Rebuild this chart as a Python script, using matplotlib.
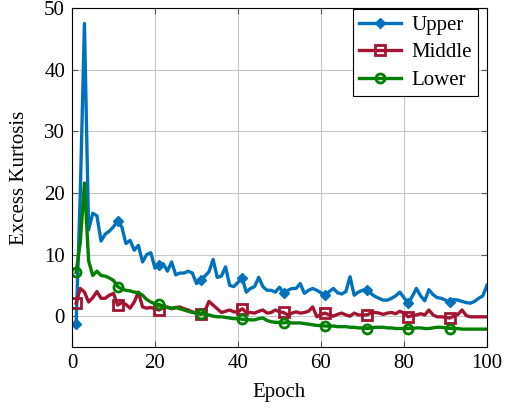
import numpy as np
import matplotlib.pyplot as plt

plt.rcParams['font.family'] = ['Liberation Serif', 'DejaVu Serif']

epochs = np.arange(1, 101)

upper = [
    -1.2, 20.0, 47.5, 14.0, 16.7, 16.3, 12.2, 13.3, 13.8, 14.5,
    15.5, 14.5, 11.8, 12.3, 10.7, 11.5, 8.8, 10.0, 10.3, 7.8,
    8.3, 8.5, 7.3, 8.8, 6.7, 7.0, 7.0, 7.3, 7.0, 5.3,
    5.8, 6.5, 7.2, 9.2, 6.3, 6.5, 8.0, 5.0, 4.8, 5.5,
    6.2, 3.9, 4.5, 4.8, 6.3, 4.8, 4.2, 4.2, 3.9, 4.7,
    3.7, 4.2, 4.5, 4.5, 5.3, 3.7, 4.2, 4.5, 4.2, 3.8,
    3.4, 4.0, 4.5, 3.8, 3.6, 4.0, 6.4, 3.4, 3.9, 4.2,
    4.3, 3.7, 3.2, 2.9, 2.6, 2.6, 2.9, 3.3, 3.9, 3.0,
    2.1, 3.2, 4.5, 3.3, 2.5, 4.3, 3.5, 3.0, 2.9, 2.6,
    2.3, 2.7, 2.6, 2.4, 2.2, 2.1, 2.4, 2.9, 3.3, 5.0,
]

middle = [
    2.1, 4.5, 3.9, 2.3, 3.0, 4.0, 2.9, 2.9, 3.4, 3.7,
    1.8, 2.2, 1.9, 1.3, 2.3, 3.9, 1.5, 1.3, 1.4, 1.2,
    1.0, 1.4, 1.5, 1.2, 1.4, 1.5, 1.2, 1.0, 0.7, 0.5,
    0.3, 0.8, 2.4, 1.8, 1.2, 0.6, 0.8, 1.0, 0.7, 0.7,
    1.2, 0.6, 0.6, 0.5, 0.8, 1.0, 0.5, 0.6, 1.0, 0.7,
    0.6, 0.2, 0.5, 0.7, 0.5, 0.6, 0.8, 1.5, -0.1, 0.3,
    0.5, 0.2, 0.0, 0.3, 0.5, 0.2, 0.0, 0.5, 0.2, 0.2,
    0.2, 0.5, 0.6, 0.5, 0.3, 0.5, 0.6, 0.4, 0.8, 0.5,
    -0.1, 0.1, 0.2, 0.4, 0.2, 1.0, 0.2, -0.1, -0.1, -0.2,
    -0.3, 0.0, 0.3, 1.0, 0.1, -0.1, -0.1, -0.1, -0.1, -0.1,
]

lower = [
    7.1, 12.0, 21.6, 9.0, 6.6, 7.3, 6.6, 6.5, 6.2, 5.8,
    4.8, 4.4, 4.2, 4.1, 3.9, 3.8, 3.4, 2.7, 2.3, 2.0,
    1.9, 1.6, 1.4, 1.3, 1.4, 1.2, 1.0, 0.8, 0.6, 0.5,
    0.4, 0.3, 0.2, 0.0, -0.1, -0.1, -0.2, -0.3, -0.4, -0.4,
    -0.5, -0.5, -0.6, -0.6, -0.4, -0.3, -0.7, -0.9, -1.0, -1.0,
    -1.1, -1.0, -1.1, -1.1, -1.1, -1.2, -1.3, -1.4, -1.5, -1.5,
    -1.6, -1.6, -1.6, -1.7, -1.7, -1.7, -1.8, -1.8, -1.9, -1.9,
    -2.0, -1.9, -1.8, -1.8, -1.8, -1.9, -1.9, -2.0, -2.0, -2.0,
    -2.0, -2.0, -1.9, -1.9, -2.0, -2.0, -1.9, -1.8, -1.8, -1.9,
    -2.0, -2.0, -2.0, -2.1, -2.1, -2.1, -2.1, -2.1, -2.1, -2.1,
]

fig = plt.figure(figsize=(5.15, 4.09), dpi=100)
ax = fig.add_axes([0.1398, 0.1516, 0.8058, 0.8288])

ax.plot(epochs, upper, color='#0072BD', lw=2.4, marker='D', ms=5.5,
        markevery=(0, 10), label='Upper', solid_joinstyle='round')
ax.plot(epochs, middle, color='#A2142F', lw=2.4, marker='s', ms=6.5,
        mfc='none', mew=2.0, markevery=(0, 10), label='Middle',
        solid_joinstyle='round')
ax.plot(epochs, lower, color='#008000', lw=2.4, marker='o', ms=6.5,
        mfc='none', mew=2.0, markevery=(0, 10), label='Lower',
        solid_joinstyle='round')

ax.set_xlim(0, 100)
ax.set_ylim(-5, 50)
ax.set_xticks([0, 20, 40, 60, 80, 100])
ax.set_yticks([0, 10, 20, 30, 40, 50])
ax.grid(True, color='#c8c8c8', lw=0.8)
ax.set_axisbelow(True)
ax.tick_params(direction='in', top=True, right=True, length=4,
               labelsize=15, color='#555555', pad=5)
ax.set_xlabel('Epoch', fontsize=15, labelpad=7)
ax.set_ylabel('Excess Kurtosis', fontsize=15, labelpad=11)

leg = ax.legend(loc='upper right', fontsize=15, fancybox=False,
                edgecolor='black', framealpha=1, handlelength=2.0,
                borderpad=0.3, labelspacing=0.38, handletextpad=0.5,
                borderaxespad=0, bbox_to_anchor=(0.978, 0.997))
leg.get_frame().set_linewidth(0.8)

fig.savefig('out.png', dpi=100)
